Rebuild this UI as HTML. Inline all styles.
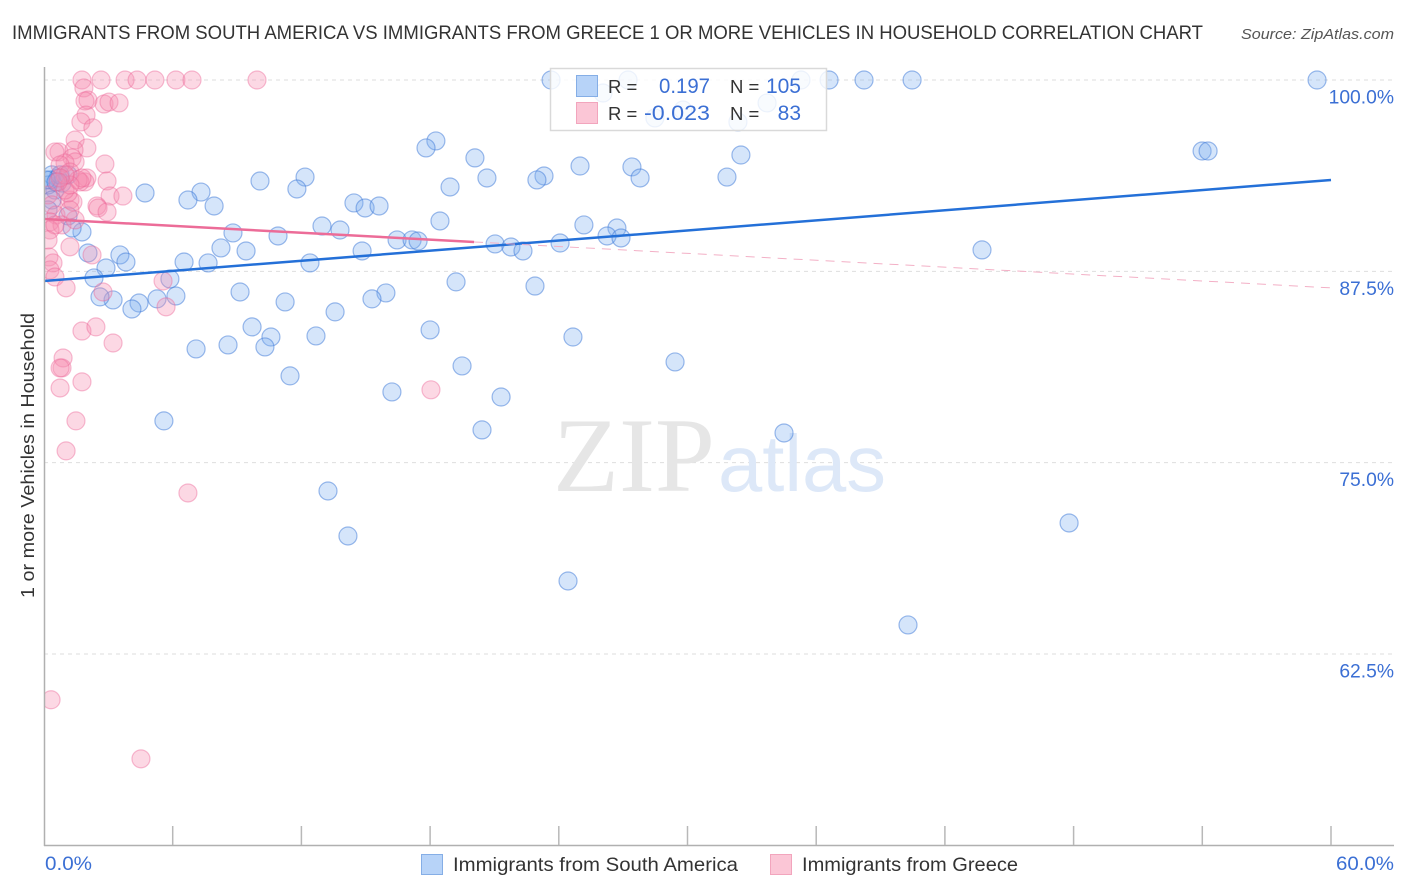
<!DOCTYPE html>
<html lang="en">
<head>
<meta charset="utf-8">
<title>Immigrants from South America vs Immigrants from Greece correlation chart</title>
<style>
html,body{margin:0;padding:0;background:#fff;width:1406px;height:892px;overflow:hidden}
svg{display:block;font-family:"Liberation Sans",sans-serif}
</style>
</head>
<body>
<svg id="chart" width="1406" height="892" viewBox="0 0 1406 892" xmlns="http://www.w3.org/2000/svg">
  <defs>
    <clipPath id="plot-clip"><rect x="45" y="60" width="1361" height="790"/></clipPath>
  </defs>
  <text x="12" y="39" font-size="19.5" fill="#333" textLength="1191" lengthAdjust="spacingAndGlyphs">IMMIGRANTS FROM SOUTH AMERICA VS IMMIGRANTS FROM GREECE 1 OR MORE VEHICLES IN HOUSEHOLD CORRELATION CHART</text>
  <text x="1241" y="39" font-size="15" font-style="italic" fill="#555" textLength="153" lengthAdjust="spacingAndGlyphs">Source: ZipAtlas.com</text>
  <g id="grid"></g>
  <g>
    <text x="553" y="491" font-family="'Liberation Serif',serif" font-size="106" fill="#e6e6e6" textLength="162" lengthAdjust="spacingAndGlyphs">ZIP</text>
    <text x="718" y="491" font-family="'Liberation Sans',sans-serif" font-size="80" fill="#dde8f8" textLength="168" lengthAdjust="spacingAndGlyphs">atlas</text>
  </g>
  <g id="points-blue" clip-path="url(#plot-clip)"></g>
  <g id="points-pink" clip-path="url(#plot-clip)"></g>
  <g id="trends"></g>
  <g id="axes"></g>
  <text transform="translate(34,598) rotate(-90)" font-size="18.5" fill="#333" textLength="285" lengthAdjust="spacingAndGlyphs">1 or more Vehicles in Household</text>
  <g>
    <rect x="550.5" y="68.5" width="276" height="62" fill="#fff" fill-opacity="0.82" stroke="#d9d9d9" stroke-width="1.5"/>
    <rect x="576.5" y="75.5" width="21" height="21" fill="#b7d3f8" stroke="#85aee6"/>
    <rect x="576.5" y="102.5" width="21" height="21" fill="#fbc6d6" stroke="#f2a5bd"/>
    <text x="608" y="93" font-size="18.5" fill="#333">R =</text>
    <text x="608" y="120" font-size="18.5" fill="#333">R =</text>
    <text x="659" y="93" font-size="21" fill="#3b6fd4" textLength="51" lengthAdjust="spacingAndGlyphs">0.197</text>
    <text x="644" y="120" font-size="21" fill="#3b6fd4" textLength="66" lengthAdjust="spacingAndGlyphs">-0.023</text>
    <text x="730" y="93" font-size="18.5" fill="#333">N =</text>
    <text x="730" y="120" font-size="18.5" fill="#333">N =</text>
    <text x="801" y="93" font-size="21" fill="#3b6fd4" text-anchor="end">105</text>
    <text x="801" y="120" font-size="21" fill="#3b6fd4" text-anchor="end">83</text>
  </g>
  <g>
    <rect x="421.5" y="854.5" width="21" height="20" fill="#b7d3f8" stroke="#85aee6"/>
    <text x="453" y="871" font-size="19.5" fill="#333" textLength="285" lengthAdjust="spacingAndGlyphs">Immigrants from South America</text>
    <rect x="770.5" y="854.5" width="21" height="20" fill="#fbc6d6" stroke="#f2a5bd"/>
    <text x="802" y="871" font-size="19.5" fill="#333" textLength="216" lengthAdjust="spacingAndGlyphs">Immigrants from Greece</text>
  </g>
</svg>
<script>
// Tick values
const yTicks = [100, 87.5, 75, 62.5];
const yTickLabels = ["100.0%", "87.5%", "75.0%", "62.5%"];
const xTicks = [0, 6, 12, 18, 24, 30, 36, 42, 48, 54, 60];
const xEndLabels = ["0.0%", "60.0%"];

// South America series (percent, percent)
const blueX = [23.64,27.23,35.29,36.60,38.23,40.47,59.35,26.06,28.48,29.79,32.35,33.71,53.99,54.27,18.27,17.81,20.09,32.49,24.99,27.41,27.79,31.84,23.31,22.98,20.65,18.93,12.17,11.79,10.07,4.71,7.32,6.71,7.93,14.45,14.97,15.62,18.46,12.96,13.8,25.17,26.71,26.25,26.9,8.81,10.91,16.46,17.16,17.44,21.03,21.77,22.33,24.06,43.73,14.83,8.25,9.42,2.05,1.77,1.12,1.31,3.54,3.82,2.89,2.33,6.53,7.65,12.4,5.87,19.21,22.89,9.14,15.94,15.29,11.24,6.15,5.27,4.43,4.1,3.22,2.61,13.57,9.7,18,12.68,10.58,10.3,8.58,7.09,24.66,29.42,19.49,11.47,16.22,21.31,5.59,20.42,34.5,13.24,47.79,14.17,24.43,40.28,0.37,0.65,0.51,0.84,0.19,0.28,0.75,1.12,0.37,0.19,0.1,0.56];
const blueY = [100,100,100,100,100,100,100,99.15,97.52,98.04,97.26,98.5,95.36,95.36,96.02,95.56,94.91,95.1,94.38,94.32,93.6,93.66,93.73,93.47,93.6,93.01,93.66,92.88,93.4,92.62,92.68,92.16,91.77,91.97,91.64,91.77,90.79,90.46,90.2,90.53,90.33,89.81,89.68,90.01,89.81,89.55,89.55,89.48,89.29,89.09,88.83,89.35,88.9,88.83,89.03,88.83,88.7,90.07,91.12,90.33,88.57,88.11,87.72,87.07,88.11,88.05,88.05,87,86.81,86.54,86.15,86.09,85.7,85.5,85.89,85.7,85.43,85.04,85.63,85.83,84.85,83.87,83.67,83.28,83.21,82.56,82.69,82.43,83.21,81.58,81.32,80.67,79.62,79.29,77.73,77.14,76.94,73.15,71.06,70.21,67.27,64.4,93.8,93.6,92.81,93.27,93.14,93.47,93.8,93.8,92.16,91.51,93.47,93.34];

// Greece series (percent, percent)
const pinkX = [1.77,2.66,3.78,4.34,5.17,6.15,6.9,9.93,1.86,2.05,1.91,2.8,3.03,3.5,1.96,1.72,2.28,1.45,2.0,0.7,1.4,1.31,1.45,0.98,2.84,2.94,2.0,1.91,1.68,3.08,3.68,2.47,2.52,2.94,1.21,1.35,1.12,1.21,2.24,0.23,0.42,0.28,0.51,1.03,2.75,5.55,5.69,1.77,2.42,3.22,0.89,0.84,0.75,1.77,0.75,1.49,1.03,6.71,18.04,0.33,4.52,0.51,0.75,1.21,1.59,1.77,0.98,1.21,0.19,0.37,0.56,0.28,0.84,1.45,0.28,0.51,1.21,0.19,0.98,0.75,0.65];
const pinkY = [100,100,100,100,100,100,100,100,99.48,98.69,98.63,98.43,98.56,98.5,97.71,97.26,96.87,96.08,95.56,95.3,95.43,94.91,94.65,94.58,94.51,93.4,93.6,93.34,93.34,92.42,92.42,91.77,91.64,91.38,92.16,92.03,92.62,89.1,88.57,88.44,88.05,87.59,87.13,86.42,86.15,86.87,85.18,83.6,83.87,82.82,81.84,81.19,81.19,80.28,79.88,77.73,75.77,73.02,79.76,59.51,55.65,95.3,94.45,93.99,93.47,93.6,92.81,93.14,92.49,91.84,91.18,90.73,90.53,90.86,90.2,90.53,91.51,89.55,93.8,93.6,93.34];

// Trend endpoints
const blueTrendX = [0, 60];
const blueTrendY = [86.87, 93.47];
const pinkSolidX = [0, 20.05];
const pinkSolidY = [90.92, 89.42];
const pinkDashX = [20.05, 60];
const pinkDashY = [89.42, 86.42];

const NS = 'http://www.w3.org/2000/svg';
function sx(v) { return 44 + v * (1331 - 44) / 60; }
function sy(v) { return 80 + (100 - v) * (654 - 80) / 37.5; }
function mk(tag, parent, attrs) {
  const el = document.createElementNS(NS, tag);
  for (const k in attrs) el.setAttribute(k, attrs[k]);
  parent.appendChild(el);
  return el;
}

const grid = document.getElementById('grid');
const axes = document.getElementById('axes');
yTicks.forEach(function (t, i) {
  const line = mk('line', grid, {x1: 44, x2: 1394, y1: sy(t), y2: sy(t), stroke: '#dedede', 'stroke-width': 1, 'stroke-dasharray': '4 4'});
  
  
  const label = mk('text', axes, {x: 1394, y: sy(t) + 23.5, 'font-size': 19.3, fill: '#3b6fd4', 'text-anchor': 'end'});
  label.textContent = yTickLabels[i];
  
  
});

const yAxis = mk('line', axes, {x1: 44.5, x2: 44.5, y1: 67, y2: 846, stroke: '#b0b0b0', 'stroke-width': 1.5});


const xAxis = mk('line', axes, {x1: 44, x2: 1394, y1: 845.5, y2: 845.5, stroke: '#b0b0b0', 'stroke-width': 1.5});


xTicks.forEach(function (t) {
  if (t === 0) return;
  const tick = mk('line', axes, {x1: sx(t), x2: sx(t), y1: 826, y2: 845, stroke: '#b8b8b8', 'stroke-width': 1.5});
  
  
});
const xLabelStart = mk('text', axes, {x: 45, y: 870, 'font-size': 19, fill: '#3b6fd4', textLength: 47, lengthAdjust: 'spacingAndGlyphs'});
xLabelStart.textContent = xEndLabels[0];


const xLabelEnd = mk('text', axes, {x: 1336, y: 870, 'font-size': 19, fill: '#3b6fd4', textLength: 58, lengthAdjust: 'spacingAndGlyphs'});
xLabelEnd.textContent = xEndLabels[1];



const gBlue = document.getElementById('points-blue');
blueX.forEach(function (v, i) {
  const c = mk('circle', gBlue, {cx: sx(v), cy: sy(blueY[i]), r: 9, fill: 'rgba(125,175,240,0.32)', stroke: 'rgba(60,120,215,0.5)', 'stroke-width': 1.2});
  
  
});
const gPink = document.getElementById('points-pink');
pinkX.forEach(function (v, i) {
  const c = mk('circle', gPink, {cx: sx(v), cy: sy(pinkY[i]), r: 9, fill: 'rgba(245,140,175,0.34)', stroke: 'rgba(235,100,150,0.42)', 'stroke-width': 1.2});
  
  
});

const gTrends = document.getElementById('trends');
const blueTrend = mk('line', gTrends, {x1: sx(blueTrendX[0]), y1: sy(blueTrendY[0]), x2: sx(blueTrendX[1]), y2: sy(blueTrendY[1]), stroke: '#2470d8', 'stroke-width': 2.5});


const pinkSolid = mk('line', gTrends, {x1: sx(pinkSolidX[0]), y1: sy(pinkSolidY[0]), x2: sx(pinkSolidX[1]), y2: sy(pinkSolidY[1]), stroke: '#ec6c98', 'stroke-width': 2.5});


const pinkDash = mk('line', gTrends, {x1: sx(pinkDashX[0]), y1: sy(pinkDashY[0]), x2: sx(pinkDashX[1]), y2: sy(pinkDashY[1]), stroke: '#f3b0c6', 'stroke-width': 1, 'stroke-dasharray': '9 7'});


</script>
</body>
</html>
